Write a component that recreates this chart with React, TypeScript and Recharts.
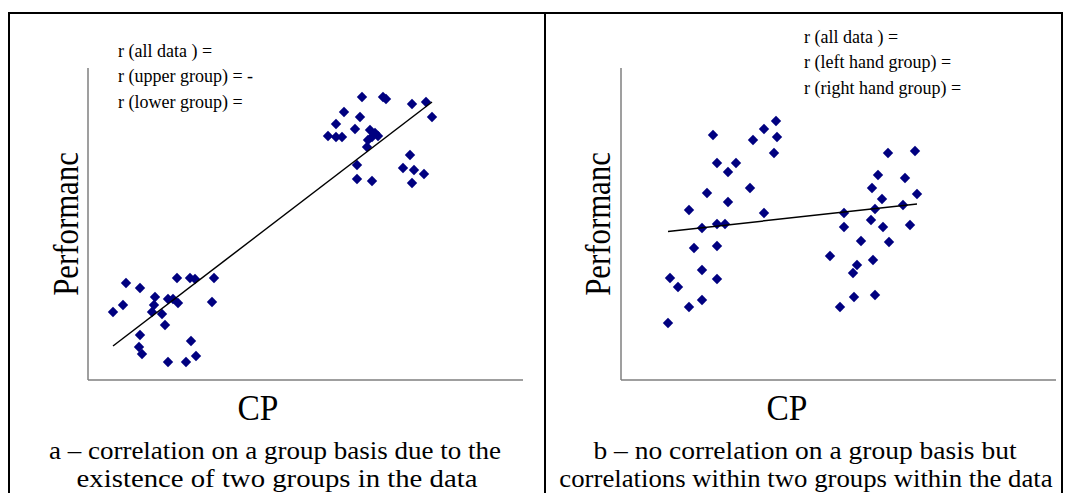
import React from "react";
import { Scatter, ScatterChart, XAxis, YAxis } from "recharts";

// values in arbitrary units (CP across, performance up)
const lowerGroupA = [
  { cp: 38, perf: 97 }, { cp: 52, perf: 92 }, { cp: 89, perf: 102 }, { cp: 102, perf: 102 },
  { cp: 107, perf: 101 }, { cp: 126, perf: 102 }, { cp: 67, perf: 83 }, { cp: 35, perf: 75 },
  { cp: 25, perf: 68 }, { cp: 80, perf: 81 }, { cp: 85, perf: 81 }, { cp: 90, perf: 77 },
  { cp: 66, perf: 75 }, { cp: 64, perf: 68 }, { cp: 74, perf: 66 }, { cp: 124, perf: 78 },
  { cp: 77, perf: 55 }, { cp: 52, perf: 45 }, { cp: 103, perf: 39 }, { cp: 51, perf: 33 },
  { cp: 54, perf: 26 }, { cp: 108, perf: 24 }, { cp: 80, perf: 18 }, { cp: 98, perf: 18 },
];

const upperGroupA = [
  { cp: 274, perf: 283 }, { cp: 295, perf: 283 }, { cp: 298, perf: 281 }, { cp: 324, perf: 276 },
  { cp: 338, perf: 278 }, { cp: 344, perf: 263 }, { cp: 256, perf: 268 }, { cp: 272, perf: 263 },
  { cp: 248, perf: 256 }, { cp: 267, perf: 251 }, { cp: 240, perf: 244 }, { cp: 248, perf: 243 },
  { cp: 254, perf: 243 }, { cp: 282, perf: 250 }, { cp: 287, perf: 247 }, { cp: 290, perf: 244 },
  { cp: 284, perf: 243 }, { cp: 280, perf: 240 }, { cp: 279, perf: 233 }, { cp: 269, perf: 215 },
  { cp: 269, perf: 201 }, { cp: 284, perf: 199 }, { cp: 322, perf: 225 }, { cp: 315, perf: 212 },
  { cp: 326, perf: 210 }, { cp: 336, perf: 206 }, { cp: 324, perf: 197 },
];

const trendA = [
  { cp: 25, perf: 34 },
  { cp: 344, perf: 278 },
];

const leftGroupB = [
  { cp: 155, perf: 259 }, { cp: 143, perf: 251 }, { cp: 132, perf: 240 }, { cp: 156, perf: 243 },
  { cp: 153, perf: 227 }, { cp: 92, perf: 245 }, { cp: 96, perf: 217 }, { cp: 115, perf: 217 },
  { cp: 107, perf: 208 }, { cp: 129, perf: 192 }, { cp: 86, perf: 187 }, { cp: 107, perf: 178 },
  { cp: 68, perf: 170 }, { cp: 143, perf: 167 }, { cp: 81, perf: 152 }, { cp: 96, perf: 156 },
  { cp: 104, perf: 156 }, { cp: 73, perf: 132 }, { cp: 96, perf: 134 }, { cp: 81, perf: 110 },
  { cp: 96, perf: 101 }, { cp: 49, perf: 102 }, { cp: 57, perf: 93 }, { cp: 81, perf: 80 },
  { cp: 68, perf: 73 }, { cp: 47, perf: 57 },
];

const rightGroupB = [
  { cp: 267, perf: 227 }, { cp: 294, perf: 229 }, { cp: 257, perf: 205 }, { cp: 284, perf: 202 },
  { cp: 251, perf: 192 }, { cp: 296, perf: 186 }, { cp: 261, perf: 181 }, { cp: 254, perf: 171 },
  { cp: 282, perf: 175 }, { cp: 223, perf: 167 }, { cp: 223, perf: 153 }, { cp: 250, perf: 160 },
  { cp: 262, perf: 153 }, { cp: 289, perf: 155 }, { cp: 240, perf: 139 }, { cp: 268, perf: 138 },
  { cp: 209, perf: 124 }, { cp: 252, perf: 120 }, { cp: 236, perf: 115 }, { cp: 232, perf: 107 },
  { cp: 233, perf: 83 }, { cp: 254, perf: 85 }, { cp: 219, perf: 73 },
];

const trendB = [
  { cp: 47, perf: 148.5 },
  { cp: 296, perf: 176 },
];

const notesA = ["r (all data ) =", "r (upper group) = -", "r (lower group) ="];
const notesB = ["r (all data ) =", "r (left hand group) =", "r (right hand group) ="];
const captionA = ["a \u2013 correlation on a group basis due to the", "existence of two groups in the data"];
const captionB = ["b \u2013 no correlation on a group basis but", "correlations within two groups within the data"];

const SERIF = '"Liberation Serif", "Times New Roman", serif';
const NAVY = "#000080";
const AXIS_GREY = "#7f7f7f";

const PLOT_W = 435;
const PLOT_H = 312;
const PAD = 10;
const AXIS_BOX = 2;

function Diamond(props: any) {
  const { cx, cy } = props;
  if (cx == null || cy == null) return <g />;
  const r = 5.2;
  return (
    <path
      d={`M${cx},${cy - r}L${cx + r},${cy}L${cx},${cy + r}L${cx - r},${cy}Z`}
      fill={NAVY}
    />
  );
}

function Panel({
  left,
  groups,
  trend,
}: {
  left: number;
  groups: { cp: number; perf: number }[][];
  trend: { cp: number; perf: number }[];
}) {
  return (
    <div style={{ position: "absolute", left: left - PAD, top: 68 - PAD }}>
      <ScatterChart
        width={PLOT_W + PAD * 2}
        height={PLOT_H + PAD * 2}
        margin={{ top: PAD, right: PAD, bottom: PAD - AXIS_BOX, left: PAD - AXIS_BOX }}
      >
        <XAxis
          type="number"
          dataKey="cp"
          domain={[0, PLOT_W]}
          height={AXIS_BOX}
          tick={false}
          tickLine={false}
          axisLine={{ stroke: AXIS_GREY, strokeWidth: 1.5 }}
        />
        <YAxis
          type="number"
          dataKey="perf"
          domain={[0, PLOT_H]}
          width={AXIS_BOX}
          tick={false}
          tickLine={false}
          axisLine={{ stroke: AXIS_GREY, strokeWidth: 1.5 }}
        />
        {groups.map((g, i) => (
          <Scatter key={i} data={g} shape={Diamond} isAnimationActive={false} />
        ))}
        <Scatter
          data={trend}
          line={{ stroke: "#000", strokeWidth: 1.5 }}
          shape={() => <g />}
          isAnimationActive={false}
        />
      </ScatterChart>
    </div>
  );
}

function Notes({ left, top, lines }: { left: number; top: number; lines: string[] }) {
  return (
    <>
      {lines.map((t, i) => (
        <div
          key={t}
          style={{
            position: "absolute",
            left,
            top: top + i * 25.3,
            transform: "translateY(-50%)",
            fontFamily: SERIF,
            fontSize: 18,
            lineHeight: 1,
            whiteSpace: "nowrap",
          }}
        >
          {t}
        </div>
      ))}
    </>
  );
}

function Centered({
  x,
  y,
  size,
  text,
  squeeze = 1,
  rotate,
  lh = 1,
}: {
  x: number;
  y: number;
  size: number;
  text: string;
  squeeze?: number;
  rotate?: boolean;
  lh?: number;
}) {
  return (
    <div
      style={{
        position: "absolute",
        left: x,
        top: y,
        transform: `translate(-50%, -50%)${rotate ? " rotate(-90deg)" : ""} scaleX(${squeeze})`,
        fontFamily: SERIF,
        fontSize: size,
        lineHeight: lh,
        whiteSpace: "nowrap",
      }}
    >
      {text}
    </div>
  );
}

export default function App() {
  const line = (l: number, t: number, w: number, h: number) => (
    <div style={{ position: "absolute", left: l, top: t, width: w, height: h, background: "#000" }} />
  );
  return (
    <div
      style={{
        position: "absolute",
        left: 0,
        top: 0,
        width: 1065,
        height: 493,
        background: "#fff",
        overflow: "hidden",
        color: "#000",
      }}
    >
      {line(8, 12, 1055, 2)}
      {line(8, 12, 2, 481)}
      {line(544, 12, 2, 481)}
      {line(1061, 12, 2, 481)}

      <Panel left={88} groups={[lowerGroupA, upperGroupA]} trend={trendA} />
      <Panel left={621} groups={[leftGroupB, rightGroupB]} trend={trendB} />

      <Notes left={118} top={51} lines={notesA} />
      <Notes left={804} top={37} lines={notesB} />

      <Centered x={66} y={224} size={35} squeeze={0.88} text="Performanc" rotate />
      <Centered x={598} y={224} size={35} squeeze={0.88} text="Performanc" rotate />
      <Centered x={258} y={408} size={36} squeeze={0.93} text="CP" />
      <Centered x={787} y={408} size={36} squeeze={0.93} text="CP" />

      <Centered x={275} y={451} size={25} lh={0.9} squeeze={1.08} text={captionA[0]} />
      <Centered x={277} y={479} size={25} lh={0.9} squeeze={1.15} text={captionA[1]} />
      <Centered x={805} y={451} size={25} lh={0.9} squeeze={1.1} text={captionB[0]} />
      <Centered x={806} y={479} size={25} lh={0.9} squeeze={1.07} text={captionB[1]} />
    </div>
  );
}
